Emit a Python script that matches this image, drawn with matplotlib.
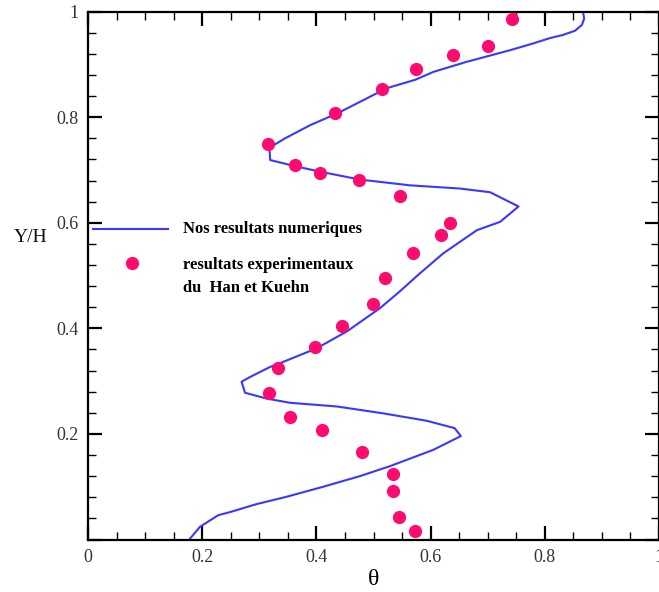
import matplotlib
matplotlib.use("Agg")
import matplotlib.pyplot as plt
from matplotlib.ticker import MultipleLocator, FuncFormatter

# Numerical results (blue line)
num_theta = [0.179, 0.196, 0.228, 0.249, 0.295, 0.348, 0.412, 0.476, 0.529, 0.605,
             0.653, 0.642, 0.593, 0.517, 0.436, 0.354, 0.313, 0.275, 0.269, 0.284,
             0.319, 0.336, 0.400, 0.453, 0.511, 0.546, 0.581, 0.622, 0.681, 0.722,
             0.754, 0.704, 0.651, 0.564, 0.476, 0.406, 0.360, 0.319, 0.318, 0.325,
             0.345, 0.389, 0.436, 0.476, 0.523, 0.573, 0.605, 0.663, 0.701, 0.739,
             0.780, 0.809, 0.832, 0.853, 0.865, 0.869, 0.867]
num_y = [0.002, 0.024, 0.046, 0.052, 0.067, 0.081, 0.100, 0.120, 0.139, 0.170,
         0.196, 0.211, 0.225, 0.239, 0.252, 0.259, 0.267, 0.278, 0.299, 0.308,
         0.327, 0.334, 0.362, 0.394, 0.438, 0.470, 0.504, 0.542, 0.586, 0.602,
         0.631, 0.658, 0.665, 0.671, 0.682, 0.697, 0.708, 0.719, 0.738, 0.747,
         0.760, 0.785, 0.807, 0.829, 0.855, 0.871, 0.886, 0.905, 0.916, 0.927,
         0.940, 0.950, 0.956, 0.964, 0.975, 0.987, 0.999]

# Experimental results (Han et Kuehn)
exp_theta = [0.742, 0.701, 0.640, 0.574, 0.515, 0.433, 0.316, 0.362, 0.406, 0.475,
             0.546, 0.634, 0.618, 0.570, 0.520, 0.499, 0.445, 0.398, 0.332, 0.317,
             0.354, 0.410, 0.480, 0.534, 0.534, 0.544, 0.573]
exp_y = [0.986, 0.935, 0.918, 0.891, 0.853, 0.809, 0.749, 0.709, 0.695, 0.681,
         0.651, 0.600, 0.576, 0.542, 0.495, 0.446, 0.405, 0.365, 0.324, 0.277,
         0.233, 0.207, 0.165, 0.124, 0.091, 0.042, 0.017]

legend_labels = ["Nos resultats numeriques", "resultats experimentaux", "du  Han et Kuehn"]

line_color = "#3838ff"
dot_color = "#ff0a6e"
serif = ["Liberation Serif", "DejaVu Serif"]

fig = plt.figure(figsize=(6.59, 5.92), dpi=100)
ax = fig.add_axes([88 / 659, 1 - 539.5 / 592, 571 / 659, (539.5 - 11.7) / 592])

ax.plot(num_theta, num_y, color=line_color, lw=1.5, zorder=2)
ax.plot(exp_theta, exp_y, linestyle="none", marker="o", markersize=8.5,
        markerfacecolor=dot_color, markeredgecolor=dot_color, zorder=3)

ax.set_xlim(0, 1)
ax.set_ylim(0, 1)
ax.xaxis.set_major_locator(MultipleLocator(0.2))
ax.xaxis.set_minor_locator(MultipleLocator(0.05))
ax.yaxis.set_major_locator(MultipleLocator(0.2))
ax.yaxis.set_minor_locator(MultipleLocator(0.04))

def fmt(v, pos):
    s = f"{v:.1f}"
    if s == "0.0":
        return "0"
    if s == "1.0":
        return "1"
    return s

def yfmt(v, pos):
    if abs(v) < 1e-9:
        return ""
    return fmt(v, pos)

ax.xaxis.set_major_formatter(FuncFormatter(fmt))
ax.yaxis.set_major_formatter(FuncFormatter(yfmt))

ax.tick_params(which="both", direction="in", top=True, right=True, colors="black",
               labelcolor="#333333", labelsize=13)
ax.tick_params(which="major", length=10, width=1.6, pad=7)
ax.tick_params(which="minor", length=5.5, width=1.0)
for lab in ax.get_xticklabels() + ax.get_yticklabels():
    lab.set_family(serif)
for sp in ax.spines.values():
    sp.set_linewidth(1.6)

ax.set_xlabel("θ", fontsize=17, family=serif, labelpad=2)
fig.text(31 / 659, 1 - 237 / 592, "Y/H", fontsize=14, family=serif,
         ha="center", va="center", color="#111111")

# Manual legend
ax.plot([(93 - 88) / 571, (168 - 88) / 571], [0.588, 0.588], color=line_color, lw=1.5,
        transform=ax.transAxes, clip_on=False)
ax.plot([(131.7 - 88) / 571], [0.524], linestyle="none", marker="o", markersize=8.5,
        markerfacecolor=dot_color, markeredgecolor=dot_color, transform=ax.transAxes)
tx = (183 - 88) / 571
ax.text(tx, 0.588, legend_labels[0], transform=ax.transAxes, fontsize=12, family=serif,
        fontweight="bold", va="center", ha="left")
ax.text(tx, 0.520, legend_labels[1], transform=ax.transAxes, fontsize=12, family=serif,
        fontweight="bold", va="center", ha="left")
ax.text(tx, 0.477, legend_labels[2], transform=ax.transAxes, fontsize=12, family=serif,
        fontweight="bold", va="center", ha="left")

fig.savefig("out.png", dpi=100)
